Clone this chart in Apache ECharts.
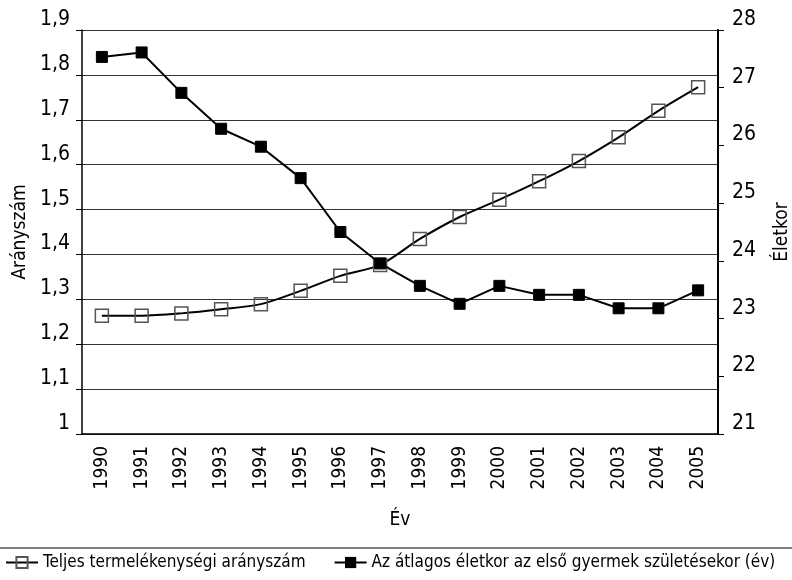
<!DOCTYPE html>
<html>
<head>
<meta charset="utf-8">
<script src="https://cdn.jsdelivr.net/npm/echarts@6/dist/echarts.min.js"></script>
<style>
    html, body { margin: 0; padding: 0; background: #fff; }
    #chart { width: 792px; height: 580px; }
</style>
</head>
<body>
<div id="chart"></div>
<script>
var years = ['1990', '1991', '1992', '1993', '1994', '1995', '1996', '1997',
    '1998', '1999', '2000', '2001', '2002', '2003', '2004', '2005'];

// open squares, right axis (Életkor)
var openValues = [23.05, 23.05, 23.09, 23.16, 23.25, 23.48, 23.74, 23.93,
    24.38, 24.76, 25.06, 25.38, 25.73, 26.14, 26.60, 27.01];

// filled squares, left axis (Arányszám)
var filledValues = [1.84, 1.85, 1.76, 1.68, 1.64, 1.57, 1.45, 1.38,
    1.33, 1.29, 1.33, 1.31, 1.31, 1.28, 1.28, 1.32];

var openName = 'Teljes termelékenységi arányszám';
var filledName = 'Az átlagos életkor az első gyermek születésekor (év)';

var font = '"DejaVu Sans Condensed", "Liberation Sans Narrow", sans-serif';

var chart = echarts.init(document.getElementById('chart'));

function textOf(size) {
    return { color: '#000', fontFamily: font, fontSize: size };
}

chart.setOption({
    animation: false,
    textStyle: { fontFamily: font, color: '#000' },
    grid: {
        left: 82,
        right: 74,
        top: 30,
        bottom: 146,
        outerBoundsMode: 'none'
    },
    legend: {
        bottom: 4,
        left: 0,
        itemWidth: 32,
        itemHeight: 14,
        itemGap: 28,
        textStyle: textOf(17),
        data: [openName, filledName]
    },
    graphic: [{
        type: 'line',
        shape: { x1: 0, y1: 548, x2: 792, y2: 548 },
        style: { stroke: '#000', lineWidth: 1 }
    }],
    xAxis: {
        type: 'category',
        data: years,
        boundaryGap: true,
        name: 'Év',
        nameLocation: 'middle',
        nameGap: 77,
        nameTextStyle: textOf(19),
        axisLine: { lineStyle: { color: '#000', width: 1.5 } },
        axisTick: { length: 6, lineStyle: { color: '#000' } },
        axisLabel: Object.assign({ rotate: 90, margin: 12 }, textOf(19)),
        splitLine: { show: false }
    },
    yAxis: [{
        type: 'value',
        min: 1,
        max: 1.9,
        interval: 0.1,
        name: 'Arányszám',
        nameLocation: 'middle',
        nameRotate: 90,
        nameGap: 51,
        nameTextStyle: textOf(19),
        axisLine: { show: true, lineStyle: { color: '#000', width: 1.5 } },
        axisTick: { show: true, length: 6, lineStyle: { color: '#000' } },
        axisLabel: Object.assign({
            margin: 12,
            verticalAlign: 'bottom',
            formatter: function (v) {
                return String(+v.toFixed(1)).replace('.', ',');
            }
        }, textOf(21)),
        splitLine: { show: true, lineStyle: { color: '#333', width: 1 } }
    }, {
        type: 'value',
        position: 'right',
        min: 21,
        max: 28,
        interval: 1,
        name: 'Életkor',
        nameLocation: 'middle',
        nameRotate: 90,
        nameGap: 55,
        nameTextStyle: textOf(19),
        axisLine: { show: true, lineStyle: { color: '#000', width: 2 } },
        axisTick: { show: true, length: 6, lineStyle: { color: '#000' } },
        axisLabel: Object.assign({ margin: 14, verticalAlign: 'bottom' }, textOf(21)),
        splitLine: { show: false }
    }],
    series: [{
        name: openName,
        type: 'line',
        yAxisIndex: 1,
        smooth: 0.3,
        data: openValues,
        symbol: 'rect',
        symbolSize: 13,
        lineStyle: { color: '#000', width: 2 },
        itemStyle: { color: 'rgba(255,255,255,0)', borderColor: '#555', borderWidth: 1.5 },
        z: 2
    }, {
        name: filledName,
        type: 'line',
        yAxisIndex: 0,
        data: filledValues,
        symbol: 'rect',
        symbolSize: 11,
        lineStyle: { color: '#000', width: 2 },
        itemStyle: { color: '#000', borderColor: '#000' },
        z: 3
    }]
});
</script>
</body>
</html>
